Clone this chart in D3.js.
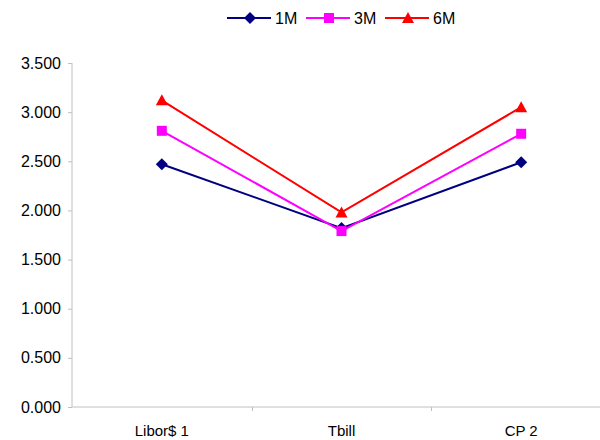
<!DOCTYPE html>
<html>
<head>
<meta charset="utf-8">
<script src="https://cdn.jsdelivr.net/npm/d3@7"></script>
<style>
  body { margin: 0; background: #fff; }
  text { font-family: "Liberation Sans", Arial, sans-serif; fill: #000; }
</style>
</head>
<body>
<div id="chart"></div>
<script>
// data
var categories = ["Libor$ 1", "Tbill", "CP 2"];
var seriesNames = ["1M", "3M", "6M"];
var seriesColors = ["#000080", "#ff00ff", "#ff0000"];
var seriesShapes = ["diamond", "square", "triangle"];
var values1M = [2.47, 1.82, 2.49];
var values3M = [2.81, 1.79, 2.78];
var values6M = [3.12, 1.98, 3.05];
var yTicks = [0, 0.5, 1, 1.5, 2, 2.5, 3, 3.5];

var series = [values1M, values3M, values6M].map(function(v, i) {
  return { name: seriesNames[i], color: seriesColors[i], shape: seriesShapes[i], values: v };
});

var width = 600, height = 440;
var svg = d3.select("#chart").append("svg")
  .attr("width", width).attr("height", height);

var x = d3.scaleBand().domain(categories).range([72, 611]);
var y = d3.scaleLinear().domain([0, 3.5]).range([407, 63]);

// marker shapes (Excel style)
function marker(shape) {
  if (shape === "diamond") return "M0,-6L6,0L0,6L-6,0Z";
  if (shape === "square") return "M-5,-5H5V5H-5Z";
  return "M0,-6L6,5H-6Z";
}

// y axis
var yAxis = svg.append("g")
  .attr("transform", "translate(72,0)")
  .call(d3.axisLeft(y).tickValues(yTicks).tickFormat(d3.format(".3f")).tickSize(4).tickPadding(7));
yAxis.selectAll("line, path").attr("stroke", "#c0c0c0");
yAxis.selectAll("text").style("font-size", "16px").attr("fill", "#000");
yAxis.select(".domain").attr("d", "M0," + y(3.5) + "V" + y(0));

// x axis
var xg = svg.append("g").attr("transform", "translate(0," + y(0) + ")");
xg.append("line").attr("x1", 72).attr("x2", width).attr("stroke", "#c0c0c0");
xg.selectAll("line.tick")
  .data(categories.slice(1))
  .enter().append("line")
  .attr("class", "tick")
  .attr("x1", function(d) { return Math.round(x(d)) + 0.5; })
  .attr("x2", function(d) { return Math.round(x(d)) + 0.5; })
  .attr("y1", 0).attr("y2", 4)
  .attr("stroke", "#c0c0c0");
xg.selectAll("text")
  .data(categories)
  .enter().append("text")
  .attr("x", function(d) { return x(d) + x.bandwidth() / 2; })
  .attr("y", 29)
  .attr("text-anchor", "middle")
  .style("font-size", "15px")
  .text(function(d) { return d; });

// lines
var line = d3.line()
  .x(function(d, i) { return x(categories[i]) + x.bandwidth() / 2; })
  .y(function(d) { return y(d); });

series.forEach(function(s) {
  svg.append("path")
    .attr("d", line(s.values))
    .attr("fill", "none")
    .attr("stroke", s.color)
    .attr("stroke-width", 2);
  svg.selectAll(null)
    .data(s.values)
    .enter().append("path")
    .attr("transform", function(d, i) {
      return "translate(" + (x(categories[i]) + x.bandwidth() / 2) + "," + y(d) + ")";
    })
    .attr("d", marker(s.shape))
    .attr("fill", s.color);
});

// legend
var legendX = [227, 306, 385];
var legend = svg.selectAll("g.legend")
  .data(series)
  .enter().append("g")
  .attr("class", "legend")
  .attr("transform", function(d, i) { return "translate(" + legendX[i] + ",18)"; });
legend.append("line")
  .attr("x1", 0).attr("x2", 44)
  .attr("stroke", function(d) { return d.color; })
  .attr("stroke-width", 2);
legend.append("path")
  .attr("transform", "translate(23,0)")
  .attr("d", function(d) { return marker(d.shape); })
  .attr("fill", function(d) { return d.color; });
legend.append("text")
  .attr("x", 48).attr("y", 6)
  .style("font-size", "16px")
  .text(function(d) { return d.name; });
</script>
</body>
</html>
